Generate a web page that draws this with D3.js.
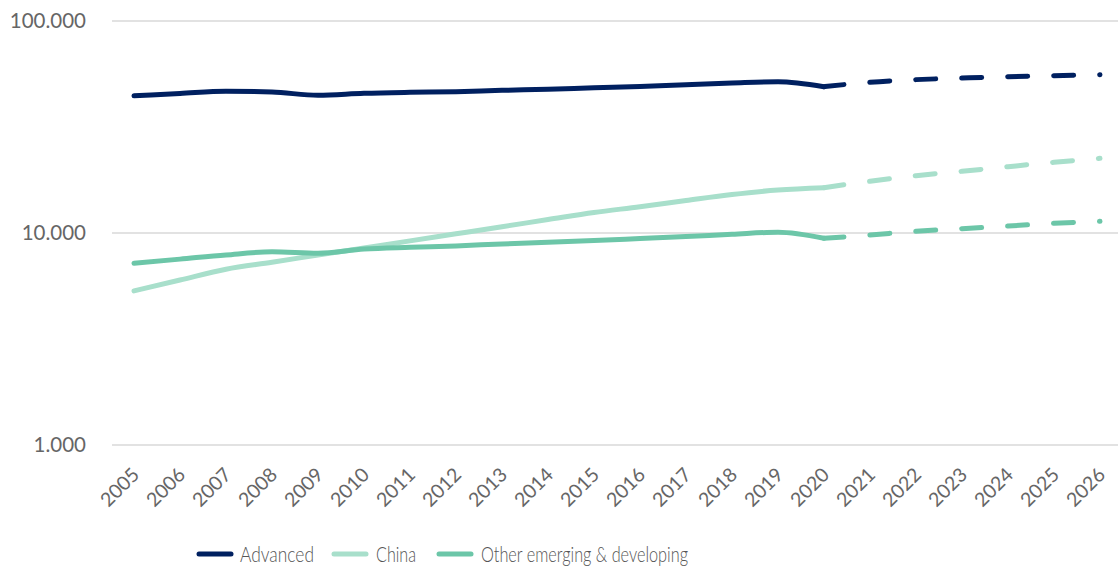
<!DOCTYPE html>
<html>
<head>
<meta charset="utf-8">
<script src="https://cdn.jsdelivr.net/npm/d3@7"></script>
<style>
  html, body { margin: 0; padding: 0; background: #fff; }
  svg { display: block; }
  text { font-family: Lato, "Open Sans", sans-serif; fill: #666666; }
</style>
</head>
<body>
<svg id="chart" width="1118" height="568"></svg>
<script>
// ---- data ----
const years = [2005,2006,2007,2008,2009,2010,2011,2012,2013,2014,2015,2016,2017,2018,2019,2020,2021,2022,2023,2024,2025,2026];
const advanced = [44400,45500,46600,46250,44600,45600,46100,46400,47100,47600,48400,49100,50100,51000,51700,49000,51400,52900,53800,54600,55200,55800];
const china    = [5330,6000,6750,7280,7870,8500,9180,9910,10700,11570,12500,13300,14230,15190,15950,16360,17540,18640,19550,20550,21560,22500];
const other    = [7200,7530,7880,8150,8020,8400,8560,8690,8880,9040,9220,9420,9630,9860,10080,9440,9790,10190,10480,10790,11110,11350];
const seriesNames = ["Advanced", "China", "Other emerging & developing"];
const seriesColors = ["#002060", "#A8DFCB", "#6CC6A8"];
const yTicks = [1000, 10000, 100000];
const lastActualYear = 2020;

const seriesValues = [advanced, china, other];

const svg = d3.select("#chart");

const x = d3.scalePoint().domain(years).range([134, 1100]);
const y = d3.scaleLog().domain([1000, 100000]).range([445, 21]);

const locale = d3.formatLocale({decimal: ",", thousands: ".", grouping: [3], currency: ["", "€"]});
const fmtY = v => locale.format(",")(v);

// gridlines
svg.append("g")
  .selectAll("line")
  .data(yTicks)
  .join("line")
  .attr("x1", 112).attr("x2", 1118)
  .attr("y1", d => y(d)).attr("y2", d => y(d))
  .attr("stroke", "#d9d9d9").attr("stroke-width", 1.5);

// y axis labels
const yAxis = d3.axisLeft(y).tickValues(yTicks).tickFormat(fmtY).tickSize(0).tickPadding(0);
const gy = svg.append("g").attr("transform", "translate(86,0)").call(yAxis);
gy.select(".domain").remove();
gy.selectAll("text").attr("font-size", 20.5).style("fill", "#666666")
  .attr("font-family", "Lato, sans-serif").style("font-weight", 400);

// x axis labels
const xAxis = d3.axisBottom(x).tickSize(0).tickPadding(0).tickFormat(d3.format("d"));
const gx = svg.append("g").attr("transform", "translate(0,476)").call(xAxis);
gx.select(".domain").remove();
gx.selectAll("text")
  .attr("font-size", 19.5)
  .attr("font-family", "Lato, sans-serif")
  .style("font-weight", 400)
  .style("fill", "#666666")
  .attr("text-anchor", "end")
  .attr("dy", null)
  .attr("y", 0)
  .attr("transform", "translate(6,0) rotate(-45)");

// lines
const line = d3.line().x(d => x(d.year)).y(d => y(d.value)).curve(d3.curveMonotoneX);

seriesValues.forEach((vals, i) => {
  const pts = years.map((yr, j) => ({year: yr, value: vals[j]}));
  const actual = pts.filter(p => p.year <= lastActualYear);
  const forecast = pts.filter(p => p.year >= lastActualYear);
  svg.append("path").datum(actual)
    .attr("d", line)
    .attr("fill", "none").attr("stroke", seriesColors[i])
    .attr("stroke-width", 5).attr("stroke-linecap", "round").attr("stroke-linejoin", "round");
  svg.append("path").datum(forecast)
    .attr("d", line)
    .attr("fill", "none").attr("stroke", seriesColors[i])
    .attr("stroke-width", 5).attr("stroke-linecap", "round").attr("stroke-linejoin", "round")
    .attr("stroke-dasharray", "20,26");
});

// legend
const legendItems = [
  {lx: 197, tx: 240, w: 74},
  {lx: 332, tx: 376, w: 40},
  {lx: 437, tx: 481, w: 207}
];
const lg = svg.append("g");
seriesNames.forEach((name, i) => {
  const it = legendItems[i];
  lg.append("line")
    .attr("x1", it.lx + 2).attr("x2", it.lx + 34)
    .attr("y1", 554).attr("y2", 554)
    .attr("stroke", seriesColors[i]).attr("stroke-width", 5).attr("stroke-linecap", "round");
  lg.append("text")
    .attr("x", it.tx).attr("y", 555).attr("dy", "0.35em")
    .attr("font-size", 21)
    .style("font-weight", 300)
    .style("fill", "#555555")
    .attr("textLength", it.w)
    .attr("lengthAdjust", "spacingAndGlyphs")
    .text(name);
});
</script>
</body>
</html>
